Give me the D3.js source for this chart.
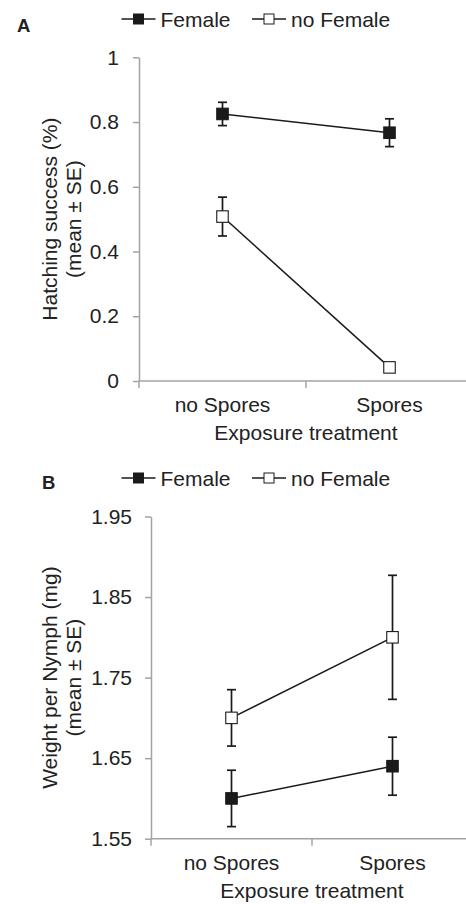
<!DOCTYPE html>
<html>
<head>
<meta charset="utf-8">
<script src="https://cdn.jsdelivr.net/npm/d3@7"></script>
<style>
  html, body { margin: 0; padding: 0; background: #fff; }
  svg { display: block; font-family: "Liberation Sans", Arial, sans-serif; }
</style>
</head>
<body>
<svg id="chart" width="466" height="904"></svg>
<script>
// ---------- DATA ----------
const categories = ["no Spores", "Spores"];
const seriesNames = ["Female", "no Female"];

// Panel A: Hatching success
const hatchFemale = [0.825, 0.767];
const hatchFemaleSE = [0.036, 0.043];
const hatchNoFemale = [0.508, 0.042];
const hatchNoFemaleSE = [0.060, 0.004];
const hatchTicks = [0, 0.2, 0.4, 0.6, 0.8, 1];

// Panel B: Weight per nymph
const weightFemale = [1.600, 1.640];
const weightFemaleSE = [0.035, 0.036];
const weightNoFemale = [1.700, 1.800];
const weightNoFemaleSE = [0.035, 0.077];
const weightTicks = [1.55, 1.65, 1.75, 1.85, 1.95];

const xTitle = "Exposure treatment";

// ---------- STYLE ----------
const textColor = "#222222";
const axisColor = "#a3a3a3";
const markColor = "#1a1a1a";
const fontSize = 21;

const svg = d3.select("#chart");

function panel(cfg) {
  const g = svg.append("g");
  const x = d3.scaleBand().domain(categories).range([cfg.left, cfg.right]).padding(0);
  const y = d3.scaleLinear().domain(cfg.domain).range([cfg.bottom, cfg.top]);

  // panel letter
  g.append("text").attr("x", cfg.letterX).attr("y", cfg.letterY)
    .attr("font-size", 18.5).attr("font-weight", "bold").attr("fill", textColor)
    .text(cfg.letter);

  // legend
  const legend = g.append("g");
  const legItems = [
    {name: seriesNames[0], filled: true, x0: 121.5},
    {name: seriesNames[1], filled: false, x0: 252}
  ];
  legItems.forEach(d => {
    const ly = cfg.legendY;
    legend.append("line").attr("x1", d.x0).attr("x2", d.x0 + 34)
      .attr("y1", ly).attr("y2", ly).attr("stroke", markColor).attr("stroke-width", 1.5);
    const s = 10;
    legend.append("rect").attr("x", d.x0 + 17 - s / 2).attr("y", ly - s / 2)
      .attr("width", s).attr("height", s)
      .attr("fill", d.filled ? markColor : "#fff")
      .attr("stroke", markColor).attr("stroke-width", 1);
    legend.append("text").attr("x", d.x0 + 39).attr("y", ly + 7.5)
      .attr("font-size", fontSize).attr("fill", textColor).text(d.name);
  });

  // y axis
  const yAxis = d3.axisLeft(y).tickValues(cfg.ticks).tickSize(6).tickSizeOuter(0)
    .tickPadding(cfg.tickPad).tickFormat(cfg.fmt);
  const ya = g.append("g").attr("transform", `translate(${cfg.left},0)`).call(yAxis);
  ya.select(".domain").attr("stroke", axisColor).attr("stroke-width", 1.5);
  ya.selectAll(".tick line").attr("stroke", axisColor).attr("stroke-width", 1.5);
  ya.selectAll(".tick text").attr("font-size", fontSize).attr("fill", textColor)
    .attr("font-family", "Liberation Sans, Arial, sans-serif");

  // x axis (band boundaries as ticks)
  const xAxis = d3.axisBottom(x).tickSize(0).tickPadding(0);
  const xa = g.append("g").attr("transform", `translate(0,${cfg.bottom})`).call(xAxis);
  xa.select(".domain").remove();
  xa.selectAll(".tick text").attr("font-size", fontSize).attr("fill", textColor)
    .attr("font-family", "Liberation Sans, Arial, sans-serif")
    .attr("dy", null).attr("y", 31);
  g.append("line").attr("x1", cfg.left).attr("x2", cfg.right)
    .attr("y1", cfg.bottom).attr("y2", cfg.bottom)
    .attr("stroke", axisColor).attr("stroke-width", 1.5);
  const bounds = d3.range(categories.length + 1).map(i => cfg.left + i * x.step());
  g.selectAll(null).data(bounds).enter().append("line")
    .attr("x1", d => d).attr("x2", d => d)
    .attr("y1", cfg.bottom).attr("y2", cfg.bottom + 7)
    .attr("stroke", axisColor).attr("stroke-width", 1.5);

  // x title
  g.append("text").attr("x", cfg.left + x.step()).attr("y", cfg.bottom + 59)
    .attr("text-anchor", "middle").attr("font-size", fontSize).attr("fill", textColor)
    .text(xTitle);

  // y title (two lines)
  const cy = (cfg.top + cfg.bottom) / 2;
  cfg.yTitle.forEach((t, i) => {
    g.append("text")
      .attr("transform", `translate(${57 + i * 23.5},${cy}) rotate(-90)`)
      .attr("text-anchor", "middle").attr("font-size", fontSize).attr("fill", textColor)
      .text(t);
  });

  // series
  const cx = c => x(c) + x.bandwidth() / 2;
  const series = [
    {vals: cfg.s1, se: cfg.s1se, filled: true},
    {vals: cfg.s2, se: cfg.s2se, filled: false}
  ];
  const line = d3.line().x(d => cx(d.cat)).y(d => y(d.v));
  series.forEach(s => {
    const pts = categories.map((c, i) => ({cat: c, v: s.vals[i], se: s.se[i]}));
    g.append("path").datum(pts).attr("d", line)
      .attr("fill", "none").attr("stroke", markColor).attr("stroke-width", 1.5);
    // error bars
    const eb = g.selectAll(null).data(pts).enter().append("g");
    eb.append("line").attr("x1", d => cx(d.cat)).attr("x2", d => cx(d.cat))
      .attr("y1", d => y(d.v - d.se)).attr("y2", d => y(d.v + d.se))
      .attr("stroke", markColor).attr("stroke-width", 1.7);
    [-1, 1].forEach(sign => {
      eb.append("line").attr("x1", d => cx(d.cat) - 4.5).attr("x2", d => cx(d.cat) + 4.5)
        .attr("y1", d => y(d.v + sign * d.se)).attr("y2", d => y(d.v + sign * d.se))
        .attr("stroke", markColor).attr("stroke-width", 1.7);
    });
    const ms = 11.5;
    g.selectAll(null).data(pts).enter().append("rect")
      .attr("x", d => cx(d.cat) - ms / 2).attr("y", d => y(d.v) - ms / 2)
      .attr("width", ms).attr("height", ms)
      .attr("fill", s.filled ? markColor : "#fff")
      .attr("stroke", markColor).attr("stroke-width", 1.1);
  });
}

panel({
  letter: "A", letterX: 17, letterY: 31.5, legendY: 19,
  left: 139, right: 473, top: 57.3, bottom: 381,
  domain: [0, 1], ticks: hatchTicks, fmt: d3.format("~g"), tickPad: 14,
  yTitle: ["Hatching success (%)", "(mean ± SE)"],
  s1: hatchFemale, s1se: hatchFemaleSE, s2: hatchNoFemale, s2se: hatchNoFemaleSE
});

panel({
  letter: "B", letterX: 42, letterY: 489, legendY: 478,
  left: 151, right: 473, top: 516.5, bottom: 838.7,
  domain: [1.55, 1.95], ticks: weightTicks, fmt: d3.format(".2f"), tickPad: 13,
  yTitle: ["Weight per Nymph (mg)", "(mean ± SE)"],
  s1: weightFemale, s1se: weightFemaleSE, s2: weightNoFemale, s2se: weightNoFemaleSE
});
</script>
</body>
</html>
